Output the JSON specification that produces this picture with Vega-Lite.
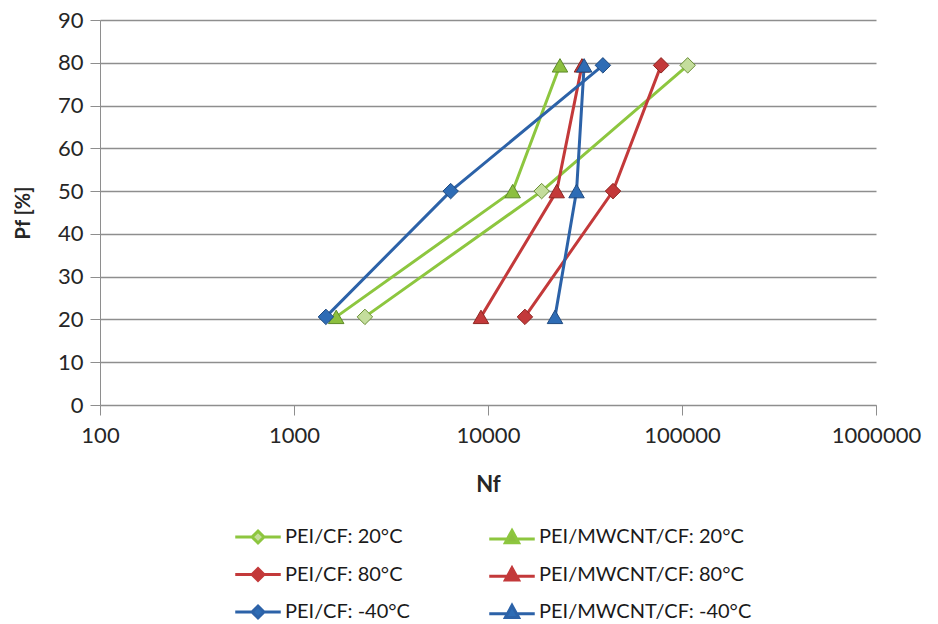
{
  "$schema": "https://vega.github.io/schema/vega-lite/v6.json",
  "width": 776,
  "height": 385,
  "autosize": {"type": "none"},
  "padding": {"left": 100, "top": 20, "right": 62, "bottom": 219},
  "background": "white",
  "config": {
    "view": {"stroke": null},
    "font": "Lato",
    "axis": {
      "domainColor": "#8e8e8e",
      "tickColor": "#8e8e8e",
      "gridColor": "#8e8e8e",
      "labelColor": "#262626",
      "titleColor": "#262626",
      "labelFont": "Lato",
      "titleFont": "Lato"
    }
  },
  "data": {
    "values": [
      {"series": "PEI/CF: 20°C", "material": "PEI/CF", "N": 2320, "P": 20.6},
      {"series": "PEI/CF: 20°C", "material": "PEI/CF", "N": 18900, "P": 50},
      {"series": "PEI/CF: 20°C", "material": "PEI/CF", "N": 107000, "P": 79.4},
      {"series": "PEI/MWCNT/CF: 20°C", "material": "PEI/MWCNT/CF", "N": 1650, "P": 20.6},
      {"series": "PEI/MWCNT/CF: 20°C", "material": "PEI/MWCNT/CF", "N": 13400, "P": 50},
      {"series": "PEI/MWCNT/CF: 20°C", "material": "PEI/MWCNT/CF", "N": 23500, "P": 79.4},
      {"series": "PEI/CF: 80°C", "material": "PEI/CF", "N": 15500, "P": 20.6},
      {"series": "PEI/CF: 80°C", "material": "PEI/CF", "N": 44100, "P": 50},
      {"series": "PEI/CF: 80°C", "material": "PEI/CF", "N": 78000, "P": 79.4},
      {"series": "PEI/MWCNT/CF: 80°C", "material": "PEI/MWCNT/CF", "N": 9200, "P": 20.6},
      {"series": "PEI/MWCNT/CF: 80°C", "material": "PEI/MWCNT/CF", "N": 22600, "P": 50},
      {"series": "PEI/MWCNT/CF: 80°C", "material": "PEI/MWCNT/CF", "N": 30500, "P": 79.4},
      {"series": "PEI/CF: -40°C", "material": "PEI/CF", "N": 1460, "P": 20.6},
      {"series": "PEI/CF: -40°C", "material": "PEI/CF", "N": 6420, "P": 50},
      {"series": "PEI/CF: -40°C", "material": "PEI/CF", "N": 39100, "P": 79.4},
      {"series": "PEI/MWCNT/CF: -40°C", "material": "PEI/MWCNT/CF", "N": 22150, "P": 20.6},
      {"series": "PEI/MWCNT/CF: -40°C", "material": "PEI/MWCNT/CF", "N": 28600, "P": 50},
      {"series": "PEI/MWCNT/CF: -40°C", "material": "PEI/MWCNT/CF", "N": 31300, "P": 79.4}
    ]
  },
  "encoding": {
    "x": {
      "field": "N",
      "type": "quantitative",
      "scale": {"type": "log", "domain": [100, 1000000]},
      "axis": {
        "values": [100, 1000, 10000, 100000, 1000000],
        "format": "d",
        "grid": false,
        "tickSize": 10,
        "labelPadding": 10,
        "labelFontSize": 22,
        "labelFlush": false,
        "labelOverlap": false,
        "title": "Nf",
        "titleFontSize": 22,
        "titleFontWeight": "bold",
        "titlePadding": 28
      }
    },
    "y": {
      "field": "P",
      "type": "quantitative",
      "scale": {"domain": [0, 90], "nice": false},
      "axis": {
        "values": [0, 10, 20, 30, 40, 50, 60, 70, 80, 90],
        "grid": true,
        "gridWidth": 1.3,
        "tickSize": 10,
        "labelPadding": 7,
        "labelFontSize": 22,
        "labelOverlap": false,
        "title": "Pf [%]",
        "titleFontSize": 20,
        "titleFontWeight": "bold",
        "titlePadding": 24
      }
    }
  },
  "layer": [
    {
      "mark": {"type": "line", "strokeWidth": 3},
      "encoding": {
        "color": {
          "field": "series",
          "type": "nominal",
          "sort": null,
          "scale": {
            "domain": ["PEI/CF: 20°C", "PEI/CF: 80°C", "PEI/CF: -40°C", "PEI/MWCNT/CF: 20°C", "PEI/MWCNT/CF: 80°C", "PEI/MWCNT/CF: -40°C"],
            "range": ["#8dc63f", "#c3393a", "#2c62a8", "#8dc63f", "#c3393a", "#2c62a8"]
          },
          "legend": {
            "orient": "none",
            "legendX": 139,
            "legendY": 498,
            "columns": 2,
            "title": null,
            "padding": 0,
            "symbolSize": 1225,
            "symbolStrokeWidth": 3,
            "labelFontSize": 20,
            "labelFont": "Lato",
            "labelColor": "#1a1a1a",
            "labelOffset": 8,
            "rowPadding": 6.5,
            "columnPadding": 73,
            "labelLimit": 400,
            "encode": {
              "symbols": {
                "update": {
                  "shape": {"signal": "indexof(datum.value, 'MWCNT') >= 0 ? 'M-1.3,0.1H-0.27M0.27,0.1H1.3M0,-0.38L0.38,0.32L-0.38,0.32Z' : 'M-1.3,0H-0.34M0.34,0H1.3M0,-0.34L0.34,0L0,0.34L-0.34,0Z'"},
                  "stroke": {"signal": "indexof(datum.value, '20°C') >= 0 ? '#8dc63f' : indexof(datum.value, '80°C') >= 0 ? '#c3393a' : '#2c62a8'"},
                  "fill": {"signal": "datum.value == 'PEI/CF: 20°C' ? '#c4dd9c' : datum.value == 'PEI/MWCNT/CF: 20°C' ? '#8cbf3f' : indexof(datum.value, '80°C') >= 0 ? '#c3393a' : '#2e6cb5'"},
                  "strokeWidth": {"value": 3},
                  "opacity": {"value": 1},
                  "fillOpacity": {"value": 1},
                  "strokeOpacity": {"value": 1}
                }
              }
            }
          }
        },
        "order": {"field": "P", "type": "quantitative"}
      }
    },
    {
      "mark": {"type": "point", "filled": true, "opacity": 1, "strokeWidth": 1, "size": 240},
      "encoding": {
        "fill": {
          "field": "series",
          "type": "nominal",
          "scale": {
            "domain": ["PEI/CF: 20°C", "PEI/MWCNT/CF: 20°C", "PEI/CF: 80°C", "PEI/MWCNT/CF: 80°C", "PEI/CF: -40°C", "PEI/MWCNT/CF: -40°C"],
            "range": ["#c4dd9c", "#8cbf3f", "#c3393a", "#c3393a", "#2e6cb5", "#2e6cb5"]
          },
          "legend": null
        },
        "stroke": {
          "field": "series",
          "type": "nominal",
          "scale": {
            "domain": ["PEI/CF: 20°C", "PEI/MWCNT/CF: 20°C", "PEI/CF: 80°C", "PEI/MWCNT/CF: 80°C", "PEI/CF: -40°C", "PEI/MWCNT/CF: -40°C"],
            "range": ["#6a8f35", "#5d8a28", "#8e2520", "#8e2520", "#1f4a80", "#1f4a80"]
          },
          "legend": null
        },
        "shape": {
          "field": "material",
          "type": "nominal",
          "scale": {
            "domain": ["PEI/CF", "PEI/MWCNT/CF"],
            "range": ["diamond", "triangle-up"]
          },
          "legend": null
        }
      }
    }
  ]
}
